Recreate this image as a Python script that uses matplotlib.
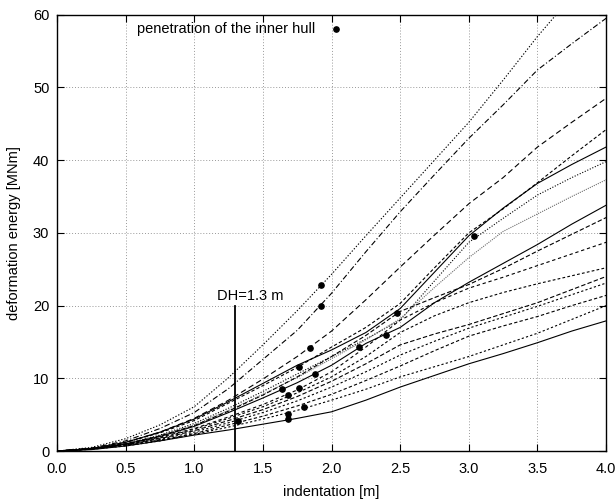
import matplotlib
matplotlib.use("Agg")
import matplotlib.pyplot as plt
import numpy as np

plt.rcParams['font.family'] = ['Liberation Sans Narrow', 'Liberation Sans', 'DejaVu Sans']

# indentation grid [m]
x = [0, 0.25, 0.5, 0.75, 1.0, 1.25, 1.5, 1.75, 2.0, 2.25, 2.5, 2.75, 3.0, 3.25, 3.5, 3.75, 4.0]

# deformation energy curves [MNm]
curve_a = [0, 0.5, 1.7, 3.6, 6.1, 10.1, 14.6, 19.3, 24.3, 29.6, 34.8, 40.0, 45.2, 51.0, 57.0, 62.5, 68.0]
curve_b = [0, 0.4, 1.4, 3.1, 5.3, 8.6, 12.6, 16.6, 21.7, 27.4, 32.9, 38.0, 43.0, 47.6, 52.4, 56.0, 59.5]
curve_c = [0, 0.35, 1.2, 2.6, 4.5, 7.0, 9.9, 13.0, 16.5, 20.8, 25.3, 29.7, 34.0, 37.6, 41.8, 45.2, 48.5]
curve_d = [0, 0.35, 1.2, 2.5, 4.2, 6.6, 9.0, 11.5, 14.3, 17.0, 20.3, 25.2, 30.0, 33.3, 36.9, 40.6, 44.2]
curve_e = [0, 0.35, 1.2, 2.6, 4.4, 6.8, 9.3, 11.8, 13.9, 16.3, 19.6, 24.6, 29.6, 33.4, 36.8, 39.4, 41.8]
curve_f = [0, 0.3, 1.0, 2.2, 3.8, 5.9, 8.2, 10.6, 13.0, 15.4, 18.0, 23.4, 28.7, 32.0, 35.2, 37.6, 39.8]
curve_g = [0, 0.3, 1.0, 2.1, 3.6, 5.6, 7.8, 10.1, 12.7, 15.3, 18.2, 22.5, 26.6, 30.2, 32.6, 35.0, 37.3]
curve_h = [0, 0.3, 0.95, 2.0, 3.4, 5.3, 7.3, 9.4, 11.8, 14.8, 17.0, 20.4, 23.2, 25.8, 28.4, 31.2, 33.8]
curve_i = [0, 0.3, 1.0, 2.1, 3.5, 5.5, 7.7, 10.2, 13.0, 15.9, 19.2, 21.1, 22.9, 25.1, 27.5, 29.8, 32.1]
curve_j = [0, 0.3, 1.0, 1.9, 3.1, 4.7, 6.4, 8.4, 10.9, 14.3, 18.0, 20.4, 22.4, 23.9, 25.5, 27.1, 28.7]
curve_k = [0, 0.3, 0.95, 1.8, 3.0, 4.5, 6.1, 8.0, 10.2, 13.0, 16.3, 18.6, 20.4, 21.8, 23.0, 24.1, 25.2]
curve_l = [0, 0.3, 0.9, 1.7, 2.8, 4.2, 5.7, 7.5, 9.6, 12.0, 14.6, 16.1, 17.4, 18.9, 20.4, 22.2, 24.0]
curve_m = [0, 0.3, 0.85, 1.6, 2.6, 3.9, 5.3, 6.9, 8.8, 10.9, 13.2, 15.1, 16.9, 18.4, 19.9, 21.5, 23.1]
curve_n = [0, 0.25, 0.8, 1.5, 2.4, 3.6, 4.8, 6.2, 7.8, 9.7, 11.7, 13.8, 15.8, 17.2, 18.5, 20.0, 21.4]
curve_p = [0, 0.25, 0.7, 1.4, 2.3, 3.3, 4.4, 5.6, 7.0, 8.5, 10.2, 11.6, 13.0, 14.6, 16.2, 18.1, 20.0]
curve_o = [0, 0.2, 0.7, 1.4, 2.2, 2.9, 3.7, 4.5, 5.4, 7.0, 8.8, 10.4, 12.0, 13.4, 14.9, 16.5, 17.9]

# penetration of the inner hull points
pen_x = [1.32, 1.68, 1.68, 1.80, 1.64, 1.68, 1.76, 1.88, 1.76, 1.84, 1.92, 1.92, 2.20, 2.40, 2.48, 3.04]
pen_y = [4.2, 4.4, 5.1, 6.0, 8.5, 7.7, 8.7, 10.65, 11.6, 14.2, 19.9, 22.8, 14.3, 15.9, 19.0, 29.5]

legend_x = [2.03]
legend_y = [58.0]
dh_x = 1.3
dh_top = 20.0

curves = [curve_a, curve_b, curve_c, curve_d, curve_e, curve_f, curve_g, curve_h,
          curve_i, curve_j, curve_k, curve_l, curve_m, curve_n, curve_p, curve_o]

styles = [
    dict(color='black', dashes=(1.2, 1.6)),
    dict(color='black', dashes=(5, 2, 1, 2)),
    dict(color='black', dashes=(5, 3)),
    dict(color='black', dashes=(3, 2)),
    dict(color='black', linestyle='-'),
    dict(color='black', dashes=(1, 1.5)),
    dict(color='#6e6e6e', dashes=(1, 1)),
    dict(color='black', linestyle='-'),
    dict(color='black', dashes=(4, 2)),
    dict(color='black', dashes=(3, 2.5)),
    dict(color='black', dashes=(2.5, 2)),
    dict(color='black', dashes=(4, 2)),
    dict(color='black', dashes=(2, 2)),
    dict(color='black', dashes=(3, 2)),
    dict(color='black', dashes=(2, 2)),
    dict(color='black', linestyle='-'),
]

fig = plt.figure(figsize=(6.16, 5.04), dpi=100)
ax = fig.add_axes([0.0925, 0.105, 0.8915, 0.866])

for yv, st in zip(curves, styles):
    ax.plot(x, yv, lw=0.8, **st)

ax.plot(pen_x, pen_y, 'o', color='black', ms=3.8, zorder=5)
ax.plot(legend_x, legend_y, 'o', color='black', ms=3.8)
ax.text(0.58, 58.0, 'penetration of the inner hull', va='center', ha='left', fontsize=10.5)

ax.plot([dh_x, dh_x], [0, dh_top], color='black', lw=1.3)
ax.text(1.165, 20.4, 'DH=1.3 m', va='bottom', ha='left', fontsize=10.5)

ax.set_xlim(0, 4)
ax.set_ylim(0, 60)
ax.set_xticks(np.arange(0, 4.01, 0.5))
ax.set_xticklabels([f"{v:.1f}" for v in np.arange(0, 4.01, 0.5)])
ax.set_yticks(np.arange(0, 61, 10))
ax.grid(True, color='#999999', linestyle=(0, (1, 2)), lw=0.7)
ax.tick_params(direction='in', top=True, right=True, length=5, labelsize=10.5, width=0.8)
ax.tick_params(axis='x', pad=8)
ax.tick_params(axis='y', pad=5.5)
for s in ax.spines.values():
    s.set_linewidth(1.0)
ax.set_xlabel('indentation [m]', fontsize=10.5, labelpad=6)
ax.set_ylabel('deformation energy [MNm]', fontsize=10.5, labelpad=8.5)

fig.savefig('out.png', dpi=100)
